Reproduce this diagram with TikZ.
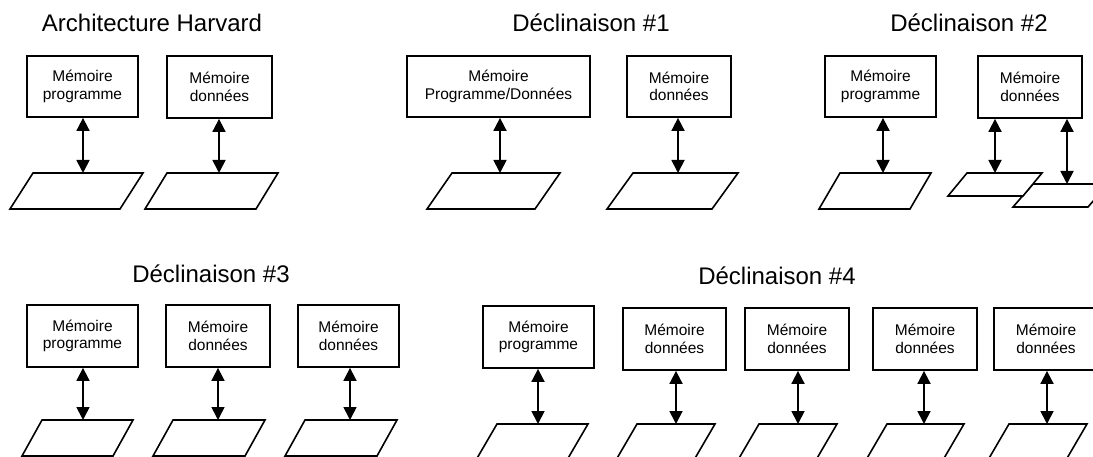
\documentclass[tikz,border=0pt]{standalone}
\usepackage{fontspec}
\setmainfont{Liberation Sans}
\usetikzlibrary{arrows.meta}

\tikzset{
  mem/.style={draw, line width=1.8pt, inner sep=0pt, align=center,
    minimum width=104pt, minimum height=61pt,
    font=\fontsize{15.5}{17.5}\selectfont},
  heading/.style={anchor=base, inner sep=0pt, font=\fontsize{24}{28}\selectfont},
  bus/.style={line width=1.8pt,
    {Triangle[length=13pt,width=13pt]}-{Triangle[length=13pt,width=13pt]}},
  slabline/.style={draw, line width=1.6pt, fill=white, line join=miter},
}

% Parallelogram bus block: name, arrow x, top y, top-left x, width, height, slant
\newcommand\slab[7]{%
  \path[slabline] (#4,#3) -- ++(#5,0) -- ++(-#7,#6) -- ++(-#5,0) -- cycle;
  \coordinate (#1) at (#2,#3);
}

\begin{document}
\begin{tikzpicture}[x=1pt, y=-1pt]
\useasboundingbox (0,0) rectangle (1093,457);
\fill[white] (0,0) rectangle (1093,457);
\clip (0,0) rectangle (1093,457);

% ---- Architecture Harvard ----
\node[heading] (tH) at (152,32) {Architecture Harvard};
\node[mem, minimum width=111pt] (hp) at (82.5,86.5) {Mémoire\\programme};
\node[mem, minimum width=105pt, minimum height=62pt] (hd) at (219.5,87) {Mémoire\\données};
\slab{hpS}{83}{173}{33}{110}{36}{23}
\slab{hdS}{219}{173}{167}{111}{36}{22}
\draw[bus] (hp.south -| hpS) -- (hpS);
\draw[bus] (hd.south -| hdS) -- (hdS);

% ---- Déclinaison #1 ----
\node[heading] (t1) at (591,32) {Déclinaison \#1};
\node[mem, minimum width=183pt] (pd) at (498.5,86.5) {Mémoire\\Programme/Données};
\node[mem] (d1) at (679,86.5) {Mémoire\\données};
\slab{pdS}{500}{173}{452}{108}{36}{25}
\slab{d1S}{678}{173}{633}{105}{36}{26}
\draw[bus] (pd.south -| pdS) -- (pdS);
\draw[bus] (d1.south -| d1S) -- (d1S);

% ---- Déclinaison #2 ----
\node[heading] (t2) at (969,32) {Déclinaison \#2};
\node[mem, minimum width=111pt] (p2) at (880.5,86.5) {Mémoire\\programme};
\node[mem, minimum height=62pt] (d2) at (1030,87) {Mémoire\\données};
\slab{p2S}{883}{173}{840}{91}{36}{21}
\slab{d2bS}{1067}{184}{1033}{75}{23}{20}
\slab{d2aS}{995}{173}{967}{75}{23}{19}
\draw[bus] (p2.south -| p2S) -- (p2S);
\draw[bus] (d2.south -| d2aS) -- (d2aS);
\draw[bus] (d2.south -| d2bS) -- (d2bS);

% ---- Déclinaison #3 ----
\node[heading] (t3) at (211,283) {Déclinaison \#3};
\node[mem, minimum width=111pt, minimum height=62pt] (p3) at (82.5,336) {Mémoire\\programme};
\node[mem, minimum height=62pt] (d3a) at (218,336) {Mémoire\\données};
\node[mem, minimum width=101pt, minimum height=62pt] (d3b) at (348.5,336) {Mémoire\\données};
\slab{p3S}{83}{420}{42}{91}{36}{20}
\slab{d3aS}{218}{420}{173}{92}{36}{20}
\slab{d3bS}{350}{420}{305}{92}{36}{20}
\draw[bus] (p3.south -| p3S) -- (p3S);
\draw[bus] (d3a.south -| d3aS) -- (d3aS);
\draw[bus] (d3b.south -| d3bS) -- (d3bS);

% ---- Déclinaison #4 ----
\node[heading] (t4) at (777,285) {Déclinaison \#4};
\node[mem, minimum width=111pt, minimum height=62pt] (p4) at (538.5,337) {Mémoire\\programme};
\node[mem, minimum width=103pt, minimum height=62pt] (d4a) at (674.5,339) {Mémoire\\données};
\node[mem, minimum height=62pt] (d4b) at (797,339) {Mémoire\\données};
\node[mem, minimum height=62pt] (d4c) at (925,339) {Mémoire\\données};
\node[mem, minimum height=62pt] (d4d) at (1046,339) {Mémoire\\données};
\slab{p4S}{538}{424}{497}{91}{36}{21}
\slab{d4aS}{676}{424}{637}{78}{36}{21}
\slab{d4bS}{798}{424}{759}{78}{36}{21}
\slab{d4cS}{924}{424}{887}{77}{36}{21}
\slab{d4dS}{1047}{424}{1009}{78}{36}{21}
\draw[bus] (p4.south -| p4S) -- (p4S);
\draw[bus] (d4a.south -| d4aS) -- (d4aS);
\draw[bus] (d4b.south -| d4bS) -- (d4bS);
\draw[bus] (d4c.south -| d4cS) -- (d4cS);
\draw[bus] (d4d.south -| d4dS) -- (d4dS);
\end{tikzpicture}
\end{document}
